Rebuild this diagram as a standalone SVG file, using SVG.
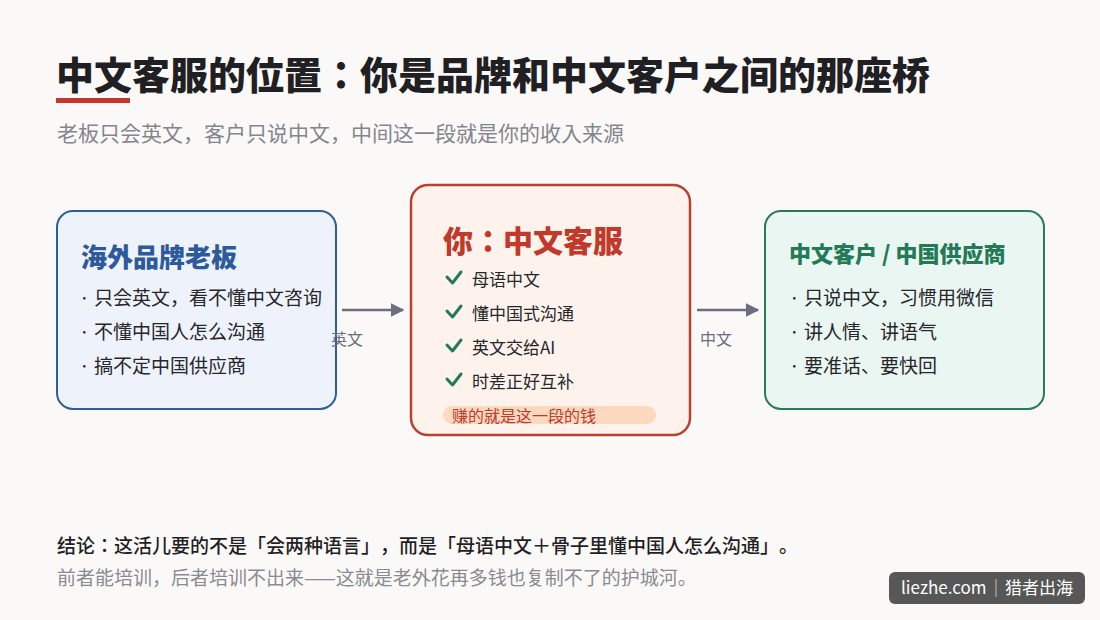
<svg xmlns="http://www.w3.org/2000/svg" width="1100" height="620" viewBox="0 0 1100 620">
<defs>
<style>
text{font-family:"Noto Sans CJK JP","Noto Sans CJK SC",sans-serif;text-spacing-trim:space-all;}
.title{font-size:38px;font-weight:900;fill:#1f1f24;}
.sub{font-size:21px;fill:#85858d;}
.item{font-size:19px;fill:#26262b;}
.chk{font-size:17px;fill:#26262b;}
.lbl{font-size:16px;fill:#6b6e7e;}
.conn{stroke:#6b6e7e;stroke-width:2.5;fill:none;}
.tick{stroke:#23795a;stroke-width:3;fill:none;stroke-linecap:round;stroke-linejoin:round;}
.foot1{font-size:19px;fill:#1f1f24;font-weight:500;}
.foot2{font-size:19px;fill:#8a8a92;}
</style>
<marker id="arr" viewBox="0 0 10 10" refX="9" refY="5" markerWidth="5.5" markerHeight="5.5" orient="auto" markerUnits="strokeWidth">
<path d="M0,0 L10,5 L0,10 z" fill="#6b6e7e"/>
</marker>
</defs>
<rect x="0" y="0" width="1100" height="620" fill="#fbf9f7"/>

<g id="header">
<text class="title" x="56" y="89">中文客服的位置：你是品牌和中文客户之间的那座桥</text>
<rect x="56" y="98" width="74" height="5" fill="#c0392b"/>
<text class="sub" x="57" y="141">老板只会英文，客户只说中文，中间这一段就是你的收入来源</text>
</g>

<g id="node-boss">
<rect x="57" y="211" width="279" height="198" rx="16" fill="#eef3fb" stroke="#2f5d9a" stroke-width="2"/>
<text x="81" y="267" font-size="26" font-weight="900" fill="#2c5a9c">海外品牌老板</text>
<text class="item" x="79" y="305">· 只会英文，看不懂中文咨询</text>
<text class="item" x="79" y="339">· 不懂中国人怎么沟通</text>
<text class="item" x="79" y="373">· 搞不定中国供应商</text>
</g>

<g id="node-you">
<rect x="411" y="185" width="279" height="250" rx="17" fill="#fdf3ec" stroke="#b9412f" stroke-width="2.5"/>
<text x="443" y="252" font-size="30" font-weight="900" fill="#c0392b">你：中文客服</text>
<path class="tick" d="M447 277 L452.5 283 L461 272"/>
<text class="chk" x="472" y="286">母语中文</text>
<path class="tick" d="M447 311 L452.5 317 L461 306"/>
<text class="chk" x="472" y="320">懂中国式沟通</text>
<path class="tick" d="M447 345 L452.5 351 L461 340"/>
<text class="chk" x="472" y="354">英文交给AI</text>
<path class="tick" d="M447 379 L452.5 385 L461 374"/>
<text class="chk" x="472" y="388">时差正好互补</text>
<rect x="443" y="406" width="213" height="18" rx="9" fill="#fcd9bf"/>
<text x="452" y="422" font-size="16" fill="#c0392b">赚的就是这一段的钱</text>
</g>

<g id="node-customer">
<rect x="765" y="211" width="279" height="198" rx="16" fill="#eaf6f1" stroke="#2a7a5a" stroke-width="2"/>
<text x="789" y="262" font-size="22" font-weight="900" fill="#237a57">中文客户 / 中国供应商</text>
<text class="item" x="789" y="305">· 只说中文，习惯用微信</text>
<text class="item" x="789" y="339">· 讲人情、讲语气</text>
<text class="item" x="789" y="373">· 要准话、要快回</text>
</g>

<g id="connectors">
<line class="conn" x1="342" y1="310" x2="403" y2="310" marker-end="url(#arr)"/>
<text class="lbl" x="331" y="345">英文</text>
<line class="conn" x1="697" y1="310" x2="758" y2="310" marker-end="url(#arr)"/>
<text class="lbl" x="700" y="345">中文</text>
</g>

<g id="footer">
<text class="foot1" x="57" y="553">结论：这活儿要的不是「会两种语言」，而是「母语中文＋骨子里懂中国人怎么沟通」。</text>
<text class="foot2" x="57" y="585">前者能培训，后者培训不出来——这就是老外花再多钱也复制不了的护城河。</text>
</g>

<g id="badge">
<rect x="889" y="572" width="196" height="32" rx="6" fill="#575757"/>
<text x="901" y="594" font-size="17" fill="#ffffff">liezhe.com</text>
<line x1="996" y1="579" x2="996" y2="597" stroke="#bdbdbd" stroke-width="1"/>
<text x="1005" y="594" font-size="17" fill="#ffffff">猎者出海</text>
</g>
</svg>
